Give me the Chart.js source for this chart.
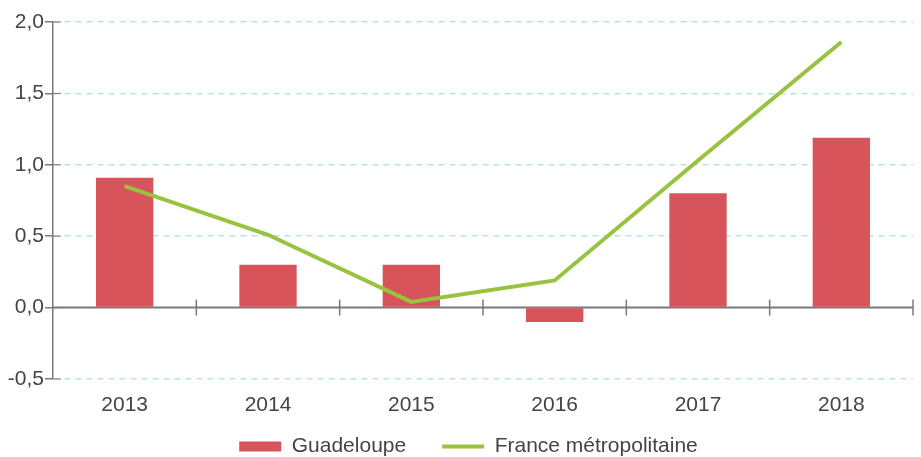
<!DOCTYPE html>
<html>
<head>
<meta charset="utf-8">
<script src="https://cdn.jsdelivr.net/npm/chart.js@4"></script>
<style>
  html, body { margin: 0; padding: 0; background: #fff; }
  #wrap { width: 921px; height: 457px; }
</style>
</head>
<body>
<div id="wrap"><canvas id="chart"></canvas></div>
<script>
// Evolution annuelle (%)
const years = ['2013', '2014', '2015', '2016', '2017', '2018'];
const guadeloupe = [0.91, 0.30, 0.30, -0.10, 0.80, 1.19];
const franceMetro = [0.85, 0.51, 0.04, 0.19, 1.03, 1.86];

const textColor = '#444444';
const axisGrey = '#7a7a7a';
const font = { family: 'Liberation Sans, Arial, sans-serif', size: 21 };

// zero axis line with crossing ticks between categories, plus small y ticks into the area
const zeroAxis = {
    id: 'zeroAxis',
    beforeDatasetsDraw(chart) {
        const { ctx, chartArea, scales } = chart;
        const y0 = scales.y.getPixelForValue(0);
        ctx.save();
        ctx.strokeStyle = axisGrey;
        ctx.lineWidth = 2;
        ctx.beginPath();
        ctx.moveTo(chartArea.left, y0);
        ctx.lineTo(chartArea.right, y0);
        ctx.stroke();
        ctx.lineWidth = 1.5;
        for (let i = 0; i < years.length; i++) {
            const x = i < years.length - 1
                ? (scales.x.getPixelForValue(i) + scales.x.getPixelForValue(i + 1)) / 2
                : chartArea.right;
            ctx.beginPath();
            ctx.moveTo(x, y0 - 8);
            ctx.lineTo(x, y0 + 8);
            ctx.stroke();
        }
        ctx.lineWidth = 1;
        scales.y.ticks.forEach(t => {
            const y = scales.y.getPixelForValue(t.value);
            ctx.beginPath();
            ctx.moveTo(chartArea.left, y);
            ctx.lineTo(chartArea.left + 8, y);
            ctx.stroke();
        });
        ctx.restore();
    }
};

// the x labels float under the area, so push the legend down below them
const legendNudge = {
    id: 'legendNudge',
    afterLayout(chart) {
        const lg = chart.legend;
        lg.top += 21; lg.bottom += 21;
        lg.left += 12; lg.right += 12;
    }
};

new Chart(document.getElementById('chart'), {
    type: 'bar',
    data: {
        labels: years,
        datasets: [
            {
                type: 'bar',
                label: 'Guadeloupe',
                data: guadeloupe,
                backgroundColor: '#d6545a',
                borderWidth: 0,
                categoryPercentage: 1,
                barPercentage: 0.4,
                order: 1
            },
            {
                type: 'line',
                label: 'France métropolitaine',
                data: franceMetro,
                borderColor: '#98c33e',
                backgroundColor: '#98c33e',
                borderWidth: 4,
                pointRadius: 0,
                tension: 0,
                order: 0
            }
        ]
    },
    options: {
        responsive: true,
        maintainAspectRatio: false,
        animation: false,
        layout: {
            padding: { top: 22, right: 8, left: 0, bottom: 11 }
        },
        plugins: {
            tooltip: { enabled: false },
            legend: {
                display: true,
                position: 'bottom',
                labels: {
                    color: textColor,
                    font: font,
                    usePointStyle: true,
                    pointStyleWidth: 42,
                    boxHeight: 10,
                    padding: 36,
                    generateLabels(chart) {
                        const items = Chart.defaults.plugins.legend.labels.generateLabels(chart);
                        items.sort((a, b) => a.datasetIndex - b.datasetIndex);
                        items.forEach(it => {
                            it.pointStyle = it.datasetIndex === 0 ? 'rect' : 'line';
                            if (it.datasetIndex === 0) it.lineWidth = 0;
                        });
                        return items;
                    }
                }
            }
        },
        scales: {
            x: {
                position: { y: -0.5 },
                grid: { display: false, drawTicks: false },
                border: { display: false },
                ticks: {
                    color: textColor,
                    font: font,
                    padding: 14,
                    maxRotation: 0
                }
            },
            y: {
                min: -0.5,
                max: 2.0,
                afterFit(scale) { scale.width = 53; },
                grid: {
                    color: ctx => ctx.tick && ctx.tick.value === 0 ? 'rgba(0,0,0,0)' : '#b8e2ef',
                    lineWidth: 1.5,
                    tickColor: axisGrey,
                    tickLength: 8
                },
                border: { display: true, color: axisGrey, width: 1.5, dash: [6, 5] },
                ticks: {
                    stepSize: 0.5,
                    color: textColor,
                    font: font,
                    padding: 1,
                    callback: v => v.toFixed(1).replace('.', ',')
                }
            }
        }
    },
    plugins: [zeroAxis, legendNudge]
});
</script>
</body>
</html>
